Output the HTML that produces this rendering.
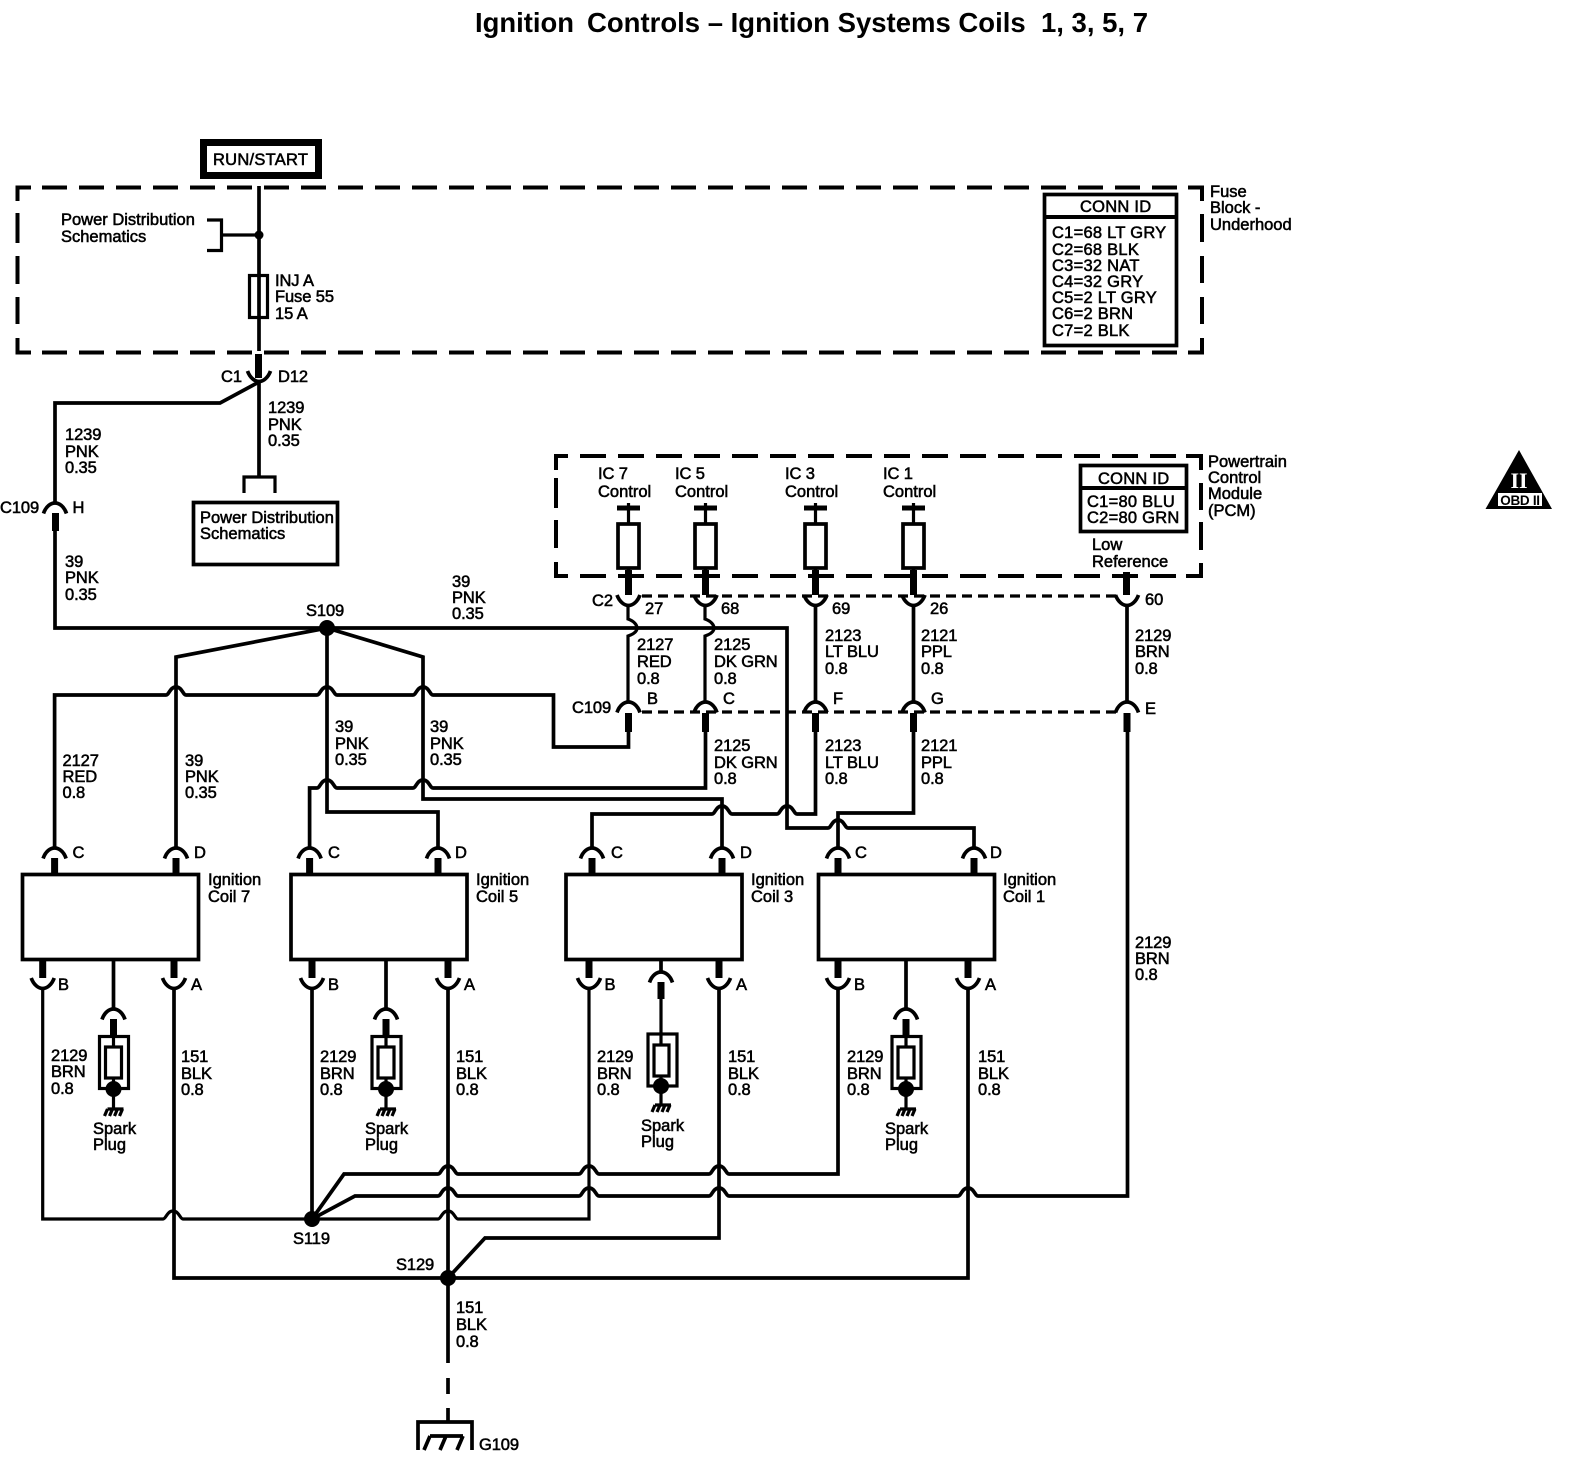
<!DOCTYPE html>
<html><head><meta charset="utf-8"><style>
html,body{margin:0;padding:0;background:#fff}
svg{display:block}
text{font-family:"Liberation Sans",sans-serif;font-size:16.5px;fill:#000;stroke:#000;stroke-width:.55;letter-spacing:0}
.w{letter-spacing:-.1px}
.c{letter-spacing:.25px}
.t{font-size:28px;font-weight:bold;stroke:none;letter-spacing:0}
.l{fill:none;stroke:#000;stroke-width:3.7;stroke-linejoin:miter}
.n{fill:none;stroke:#000;stroke-width:3.2}
.s{fill:none;stroke:#000;stroke-width:7}
.d{fill:none;stroke:#000;stroke-width:4}
</style></head><body>
<svg width="1576" height="1472" viewBox="0 0 1576 1472" xmlns="http://www.w3.org/2000/svg">
<defs>
<path id="cup" class="l" d="M-11.5,0C-9,7 -4,10.5 0,10.5S9,7 11.5,0"/>
<path id="arch" class="l" d="M-11.5,10.5C-9,3 -4,0 0,0S9,3 11.5,10.5"/>
<g id="plug">
<path class="l" d="M-11.5,10.5C-9,3 -4,0 0,0S9,3 11.5,10.5"/>
<path class="s" d="M0,10V27"/>
<rect class="n" x="-14" y="27.5" width="29" height="52"/>
<rect class="n" x="-8" y="38" width="16" height="31"/>
<path class="n" d="M0,27V38M0,69V100"/>
<circle cx="0" cy="80" r="8" fill="#000"/>
<path class="n" d="M-6,100H10M-6,100L-9,107M-1,100L-4,107M4,100L1,107M9,100L6,107"/>
</g>
<rect id="coil" class="l" x="0" y="0" width="176" height="85"/>
</defs>

<text class="t" x="475" y="32" textLength="99" lengthAdjust="spacingAndGlyphs">Ignition</text>
<text class="t" x="587" y="32" textLength="561" lengthAdjust="spacingAndGlyphs" xml:space="preserve">Controls – Ignition Systems Coils  1, 3, 5, 7</text>

<!-- RUN START -->
<rect x="203.5" y="142.5" width="115" height="33" fill="none" stroke="#000" stroke-width="7"/>
<text class="c" x="213" y="165">RUN/START</text>

<!-- Fuse block dashed box -->
<path class="d" d="M31,187.5H17.5V201M17.5,213V243M17.5,256V284M17.5,297V324M17.5,338V352.5H31"/>
<path class="d" stroke-dasharray="25 12" d="M42,187.5H1180M42,352.5H1180"/>
<path class="d" d="M1188,187.5H1202V201M1202,214V242M1202,256V283M1202,297V324M1202,338V352.5H1188"/>

<path class="l" d="M259,186V351"/>
<circle cx="259" cy="235" r="4.5" fill="#000"/>
<path class="n" d="M259,235H221.5M207,220H221.5V250.5H207"/>
<rect class="n" x="249.5" y="275.5" width="18" height="42"/>
<path class="s" d="M258.5,354V378"/>
<use href="#cup" x="259" y="371"/>
<path class="l" d="M259,382V477M259,382L220,403H55V502"/>
<path class="n" d="M244,493V477H275V493"/>
<rect class="l" x="193.5" y="502.5" width="144" height="62"/>
<use href="#arch" x="55" y="503"/>
<path class="s" d="M55.5,513V531"/>
<path class="l" d="M55,531V628H787V828H828c3,0 4,-8 10,-8s7,8 10,8H974V847"/>
<circle cx="327" cy="628" r="8" fill="#000"/>
<path class="l" d="M176,847V657L327,628V812H438V847"/>
<path class="l" d="M327,628L423,657V799H722V847"/>

<!-- Conn ID 1 -->
<rect class="l" x="1044.5" y="194.5" width="132" height="151" fill="#fff"/>
<path class="d" d="M1044,217H1177"/>

<!-- PCM dashed -->
<path class="d" d="M568,456H556V470M556,478V508M556,520V548M556,562V576H568"/>
<path class="d" stroke-dasharray="26 12" d="M580,456H1180M580,576H1180"/>
<path class="d" d="M1186,456H1201V470M1201,483V510M1201,522V550M1201,563V576H1186"/>
<rect class="l" x="1080.5" y="465.5" width="106" height="66" fill="#fff"/>
<path class="d" d="M1080,488H1187"/>

<!-- IC drivers -->
<path class="n" d="M628.5,503V523M705.5,503V523M815.5,503V523M913.5,503V523"/>
<path fill="none" stroke="#000" stroke-width="5" d="M617,508H640M694,508H717M804,508H827M902,508H925"/>
<path class="l" d="M628.5,568V572M705.5,568V572M815.5,568V572M913.5,568V572"/>
<rect class="l" x="618" y="524" width="21" height="44"/>
<rect class="l" x="695" y="524" width="21" height="44"/>
<rect class="l" x="805" y="524" width="21" height="44"/>
<rect class="l" x="903" y="524" width="21" height="44"/>
<path class="s" d="M628.5,570V595M705.5,570V595M815.5,570V595M913.5,570V595M1126.5,572V595"/>

<!-- dashed connectors -->
<path class="n" stroke-dasharray="10 6" d="M642,596H1120M642,712H1118"/>
<use href="#cup" x="628.5" y="595"/><use href="#cup" x="705.5" y="595"/><use href="#cup" x="815.5" y="595"/><use href="#cup" x="913.5" y="595"/><use href="#cup" x="1127" y="595"/>
<use href="#arch" x="628.5" y="702"/><use href="#arch" x="705.5" y="702"/><use href="#arch" x="815.5" y="702"/><use href="#arch" x="913.5" y="702"/><use href="#arch" x="1127" y="702"/>
<path class="s" d="M628.5,713V732M705.5,713V732M815.5,713V732M913.5,713V732M1127,713V732"/>
<path class="n" d="M628,605V619C634,621 637,625 637,628S634,634 628,636V703M705,605V619C711,621 714,625 714,628S711,634 705,636V703"/>
<path class="l" d="M815.5,605V703M913.5,605V703M1127,605V703"/>

<!-- crossings -->
<path class="l" d="M54.6,847V695H166c3,0 4,-8 10,-8s7,8 10,8H317c3,0 4,-8 10,-8s7,8 10,8H413c3,0 4,-8 10,-8s7,8 10,8H553.5V747H628.5V732"/>
<path class="l" d="M309.6,847V788H317c3,0 4,-8 10,-8s7,8 10,8H413c3,0 4,-8 10,-8s7,8 10,8H705.5V732"/>
<path class="l" d="M592,847V814H712c3,0 4,-8 10,-8s7,8 10,8H777c3,0 4,-8 10,-8s7,8 10,8H815.5V732"/>
<path class="l" d="M838,847V813H913.5V732"/>

<!-- coil connectors top -->
<use href="#arch" x="54.6" y="848"/><use href="#arch" x="176" y="848"/>
<use href="#arch" x="309.6" y="848"/><use href="#arch" x="438" y="848"/>
<use href="#arch" x="592" y="848"/><use href="#arch" x="722" y="848"/>
<use href="#arch" x="838" y="848"/><use href="#arch" x="974" y="848"/>
<path class="s" d="M54.6,858V875M176,858V875M309.6,858V875M438,858V875M592,858V875M722,858V875M838,858V875M974,858V875"/>

<!-- coils -->
<use href="#coil" x="22.5" y="874.5"/>
<use href="#coil" x="291" y="874.5"/>
<use href="#coil" x="566" y="874.5"/>
<use href="#coil" x="818.5" y="874.5"/>

<!-- coil connectors bottom -->
<path class="s" d="M42.7,961V978M174,961V978M312,961V978M448,961V978M589,961V978M719,961V978M838,961V978M968,961V978"/>
<use href="#cup" x="42.7" y="978"/><use href="#cup" x="174" y="978"/>
<use href="#cup" x="312" y="978"/><use href="#cup" x="448" y="978"/>
<use href="#cup" x="589" y="978"/><use href="#cup" x="719" y="978"/>
<use href="#cup" x="838" y="978"/><use href="#cup" x="968" y="978"/>

<!-- plugs -->
<path class="l" d="M113.5,961V1009M386,961V1009M906,961V1009M661,961V972"/>
<use href="#plug" x="113.5" y="1009"/>
<use href="#plug" x="386" y="1009"/>
<use href="#plug" x="906" y="1009"/>
<path class="l" d="M649.5,982.5C652,975 657,972 661,972S670,975 672.5,982.5"/>
<path class="s" d="M661,982V999"/>
<path class="n" d="M661,999V1044M661,1076V1105M655,1105H671M655,1105L652,1112M660,1105L657,1112M665,1105L662,1112M670,1105L667,1112"/>
<rect class="n" x="648" y="1034" width="29" height="52"/>
<rect class="n" x="654" y="1045" width="15" height="31"/>
<circle cx="661" cy="1086" r="8" fill="#000"/>

<!-- lower wires -->
<path class="n" d="M42.7,989V1219H163c3,0 4,-8 10,-8s7,8 10,8H312"/>
<path class="l" d="M174,989V1278H968V989"/>
<path class="l" d="M312,989V1219"/>
<path class="l" d="M312,1219L344,1174H438c3,0 4,-8 10,-8s7,8 10,8H579c3,0 4,-8 10,-8s7,8 10,8H709c3,0 4,-8 10,-8s7,8 10,8H838V989"/>
<path class="l" d="M312,1219L355,1196H438c3,0 4,-8 10,-8s7,8 10,8H579c3,0 4,-8 10,-8s7,8 10,8H709c3,0 4,-8 10,-8s7,8 10,8H958c3,0 4,-8 10,-8s7,8 10,8H1127.5V732"/>
<path class="n" d="M312,1219H438c3,0 4,-8 10,-8s7,8 10,8H589V989"/>
<path class="l" d="M719,989V1238H485L448,1278"/>
<path class="l" d="M448,989V1363M448,1378V1394M448,1408V1422"/>
<circle cx="312" cy="1219" r="8" fill="#000"/>
<circle cx="448" cy="1278" r="8" fill="#000"/>
<path class="l" d="M418,1450V1422H472V1450"/>
<path class="l" d="M430,1436H463M430,1436L424,1450M446,1436L440,1450M463,1436L457,1450"/>

<!-- labels top -->
<text x="61" y="225">Power Distribution</text><text x="61" y="242">Schematics</text>
<text class="w" x="275" y="286">INJ A</text><text class="w" x="275" y="302">Fuse 55</text><text class="w" x="275" y="319">15 A</text>
<text class="w" x="221" y="382">C1</text><text class="w" x="278" y="382">D12</text>
<text class="w" x="268" y="413">1239</text><text class="w" x="268" y="430">PNK</text><text class="w" x="268" y="446">0.35</text>
<text class="w" x="65" y="440">1239</text><text class="w" x="65" y="457">PNK</text><text class="w" x="65" y="473">0.35</text>
<text class="w" x="0" y="513">C109</text><text x="72.5" y="513">H</text>
<text class="w" x="65" y="567">39</text><text class="w" x="65" y="583">PNK</text><text class="w" x="65" y="600">0.35</text>
<text x="200" y="523">Power Distribution</text><text x="200" y="539">Schematics</text>
<text class="w" x="306" y="616">S109</text>
<text class="w" x="452" y="587">39</text><text class="w" x="452" y="603">PNK</text><text class="w" x="452" y="619">0.35</text>

<text class="c" x="1080" y="212">CONN ID</text>
<text class="c" x="1052" y="238">C1=68 LT GRY</text><text class="c" x="1052" y="255">C2=68 BLK</text><text class="c" x="1052" y="271">C3=32 NAT</text><text class="c" x="1052" y="287">C4=32 GRY</text><text class="c" x="1052" y="303">C5=2 LT GRY</text><text class="c" x="1052" y="319">C6=2 BRN</text><text class="c" x="1052" y="336">C7=2 BLK</text>
<text x="1210" y="197">Fuse</text><text x="1210" y="213">Block -</text><text x="1210" y="230">Underhood</text>

<text class="w" x="598" y="479">IC 7</text><text x="598" y="497">Control</text>
<text class="w" x="675" y="479">IC 5</text><text x="675" y="497">Control</text>
<text class="w" x="785" y="479">IC 3</text><text x="785" y="497">Control</text>
<text class="w" x="883" y="479">IC 1</text><text x="883" y="497">Control</text>
<text class="c" x="1098" y="484">CONN ID</text>
<text class="c" x="1087" y="507">C1=80 BLU</text><text class="c" x="1087" y="523">C2=80 GRN</text>
<text x="1092" y="550">Low</text><text x="1092" y="567">Reference</text>
<text x="1208" y="467">Powertrain</text><text x="1208" y="483">Control</text><text x="1208" y="499">Module</text><text x="1208" y="516">(PCM)</text>

<!-- OBD -->
<path d="M1519,450L1552,509H1485.5Z" fill="#000"/>
<text x="1519" y="488" text-anchor="middle" style="font-family:'Liberation Serif',serif;font-weight:bold;font-size:22px;fill:#fff;stroke:none;letter-spacing:0">II</text>
<rect x="1498" y="493" width="44" height="13" fill="#fff"/>
<text x="1520" y="505" text-anchor="middle" style="font-size:13.5px;font-weight:bold;stroke:none;letter-spacing:-.3px">OBD II</text>

<!-- labels mid -->
<text class="w" x="592" y="606">C2</text><text class="w" x="645" y="614">27</text><text class="w" x="721" y="614">68</text><text class="w" x="832" y="614">69</text><text class="w" x="930" y="614">26</text><text class="w" x="1145" y="605">60</text>
<text class="w" x="637" y="650">2127</text><text class="w" x="637" y="667">RED</text><text class="w" x="637" y="684">0.8</text>
<text class="w" x="714" y="650">2125</text><text class="w" x="714" y="667">DK GRN</text><text class="w" x="714" y="684">0.8</text>
<text class="w" x="825" y="641">2123</text><text class="w" x="825" y="657">LT BLU</text><text class="w" x="825" y="674">0.8</text>
<text class="w" x="921" y="641">2121</text><text class="w" x="921" y="657">PPL</text><text class="w" x="921" y="674">0.8</text>
<text class="w" x="1135" y="641">2129</text><text class="w" x="1135" y="657">BRN</text><text class="w" x="1135" y="674">0.8</text>
<text class="w" x="572" y="713">C109</text><text x="647" y="704">B</text><text x="723" y="704">C</text><text x="833" y="704">F</text><text x="931" y="704">G</text><text x="1145" y="714">E</text>
<text class="w" x="714" y="751">2125</text><text class="w" x="714" y="768">DK GRN</text><text class="w" x="714" y="784">0.8</text>
<text class="w" x="825" y="751">2123</text><text class="w" x="825" y="768">LT BLU</text><text class="w" x="825" y="784">0.8</text>
<text class="w" x="921" y="751">2121</text><text class="w" x="921" y="768">PPL</text><text class="w" x="921" y="784">0.8</text>
<text class="w" x="62.5" y="766">2127</text><text class="w" x="62.5" y="782">RED</text><text class="w" x="62.5" y="798">0.8</text>
<text class="w" x="185" y="766">39</text><text class="w" x="185" y="782">PNK</text><text class="w" x="185" y="798">0.35</text>
<text class="w" x="335" y="732">39</text><text class="w" x="335" y="749">PNK</text><text class="w" x="335" y="765">0.35</text>
<text class="w" x="430" y="732">39</text><text class="w" x="430" y="749">PNK</text><text class="w" x="430" y="765">0.35</text>

<text x="72.5" y="858">C</text><text x="194" y="858">D</text><text x="328" y="858">C</text><text x="455" y="858">D</text><text x="611" y="858">C</text><text x="740" y="858">D</text><text x="855" y="858">C</text><text x="990" y="858">D</text>
<text x="208" y="885">Ignition</text><text x="208" y="902">Coil 7</text>
<text x="476" y="885">Ignition</text><text x="476" y="902">Coil 5</text>
<text x="751" y="885">Ignition</text><text x="751" y="902">Coil 3</text>
<text x="1003" y="885">Ignition</text><text x="1003" y="902">Coil 1</text>

<text x="58" y="990">B</text><text x="191" y="990">A</text><text x="328" y="990">B</text><text x="464" y="990">A</text><text x="604.5" y="990">B</text><text x="736" y="990">A</text><text x="854" y="990">B</text><text x="985" y="990">A</text>

<text class="w" x="51" y="1061">2129</text><text class="w" x="51" y="1077">BRN</text><text class="w" x="51" y="1094">0.8</text>
<text class="w" x="181" y="1062">151</text><text class="w" x="181" y="1079">BLK</text><text class="w" x="181" y="1095">0.8</text>
<text class="w" x="320" y="1062">2129</text><text class="w" x="320" y="1079">BRN</text><text class="w" x="320" y="1095">0.8</text>
<text class="w" x="456" y="1062">151</text><text class="w" x="456" y="1079">BLK</text><text class="w" x="456" y="1095">0.8</text>
<text class="w" x="597" y="1062">2129</text><text class="w" x="597" y="1079">BRN</text><text class="w" x="597" y="1095">0.8</text>
<text class="w" x="728" y="1062">151</text><text class="w" x="728" y="1079">BLK</text><text class="w" x="728" y="1095">0.8</text>
<text class="w" x="847" y="1062">2129</text><text class="w" x="847" y="1079">BRN</text><text class="w" x="847" y="1095">0.8</text>
<text class="w" x="978" y="1062">151</text><text class="w" x="978" y="1079">BLK</text><text class="w" x="978" y="1095">0.8</text>
<text class="w" x="1135" y="948">2129</text><text class="w" x="1135" y="964">BRN</text><text class="w" x="1135" y="980">0.8</text>

<text x="93" y="1134">Spark</text><text x="93" y="1150">Plug</text>
<text x="365" y="1134">Spark</text><text x="365" y="1150">Plug</text>
<text x="641" y="1131">Spark</text><text x="641" y="1147">Plug</text>
<text x="885" y="1134">Spark</text><text x="885" y="1150">Plug</text>

<text class="w" x="293" y="1244">S119</text>
<text class="w" x="396" y="1270">S129</text>
<text class="w" x="456" y="1313">151</text><text class="w" x="456" y="1330">BLK</text><text class="w" x="456" y="1347">0.8</text>
<text class="w" x="479" y="1450">G109</text>
</svg>
</body></html>
